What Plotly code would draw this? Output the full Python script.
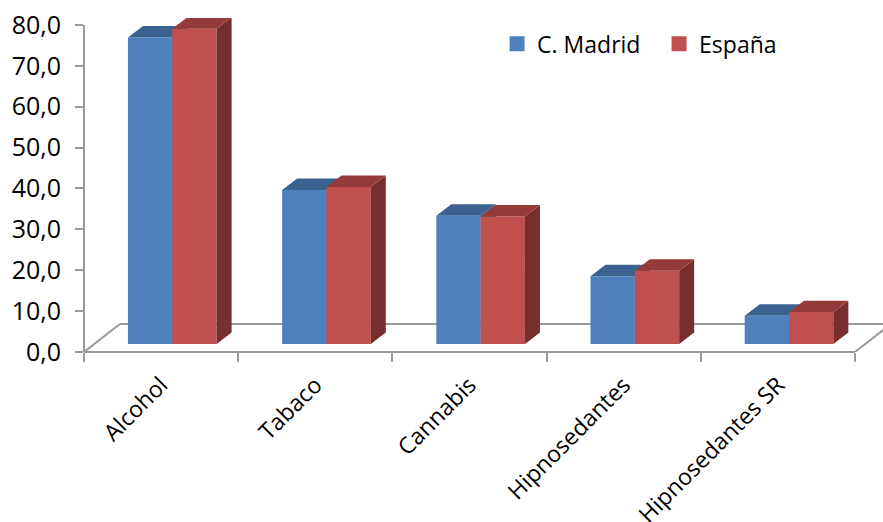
import plotly.graph_objects as go

categories = ["Alcohol", "Tabaco", "Cannabis", "Hipnosedantes", "Hipnosedantes SR"]
madrid = [75.0, 37.7, 31.4, 16.6, 6.9]
espana = [77.1, 38.4, 31.2, 17.9, 7.8]
y_ticks = [0, 10, 20, 30, 40, 50, 60, 70, 80]

FONT = "Open Sans"
INK = "#000000"
AXIS = "#9A9A9A"

# Box geometry in axis units: the bars stand on a raised floor and recede up and to the right.
BAR_W = 0.2875
BAR_START = 0.285
LIFT = 1.96
DEPTH_X = 0.0973
DEPTH_Y = 2.8
FLOOR_X = 0.233
FLOOR_Y = 6.85
X_MAX = 5.182
Y_MAX = 81.71


def faces(values, start):
    """Build side and top polygons for one series, separated by None."""
    side_x, side_y, top_x, top_y = [], [], [], []
    for i, v in enumerate(values):
        x0 = i + start
        x1 = x0 + BAR_W
        top = LIFT + v
        side_x += [x1, x1 + DEPTH_X, x1 + DEPTH_X, x1, x1, None]
        side_y += [LIFT, LIFT + DEPTH_Y, top + DEPTH_Y, top, LIFT, None]
        top_x += [x0, x0 + DEPTH_X, x1 + DEPTH_X, x1, x0, None]
        top_y += [top, top + DEPTH_Y, top + DEPTH_Y, top, top, None]
    return side_x, side_y, top_x, top_y


def add_series(fig, values, start, front, side, top, xa, ya):
    fig.add_bar(
        x=[i + start for i in range(len(values))],
        y=values,
        base=[LIFT] * len(values),
        width=BAR_W,
        offset=0,
        marker=dict(color=front, line=dict(width=0)),
        showlegend=False,
        hoverinfo="skip",
        xaxis=xa,
        yaxis=ya,
    )
    sx, sy, tx, ty = faces(values, start)
    for px, py, colour in ((sx, sy, side), (tx, ty, top)):
        fig.add_scatter(
            x=px, y=py, mode="lines", fill="toself", fillcolor=colour,
            line=dict(width=0), showlegend=False, hoverinfo="skip",
            xaxis=xa, yaxis=ya,
        )


fig = go.Figure()
add_series(fig, madrid, BAR_START, "#4F81BD", "#38597F", "#3C6390", "x", "y")
add_series(fig, espana, BAR_START + BAR_W, "#C0504D", "#772F2D", "#943B39", "x2", "y2")

# Legend keys
for name, colour in (("C. Madrid", "#4F81BD"), ("España", "#C0504D")):
    fig.add_scatter(
        x=[None], y=[None], mode="markers", name=name,
        marker=dict(symbol="square", size=15, color=colour),
    )

line = dict(color=AXIS, width=2)
floor_lines = [
    dict(xref="paper", yref="y", x0=0, x1=0, y0=0, y1=80, line=line),
    dict(xref="x", yref="paper", x0=0, x1=len(categories), y0=0, y1=0, line=line),
    dict(xref="x", yref="y", x0=0, x1=FLOOR_X, y0=0, y1=FLOOR_Y, line=line),
    dict(xref="x", yref="y", x0=len(categories), x1=len(categories) + FLOOR_X,
         y0=0, y1=FLOOR_Y, line=line),
    dict(xref="x", yref="y", x0=FLOOR_X, x1=X_MAX, y0=FLOOR_Y, y1=FLOOR_Y, line=line),
]

fig.update_layout(
    width=883,
    height=522,
    margin=dict(l=84, r=0, t=18, b=170, autoexpand=False),
    paper_bgcolor="white",
    plot_bgcolor="white",
    separators=",.",
    barmode="overlay",
    font=dict(family=FONT, color=INK, size=22),
    shapes=[dict(s, type="line", layer="below") for s in floor_lines],
    legend=dict(
        orientation="h", x=0.517, y=0.987, xanchor="left", yanchor="top",
        font=dict(family=FONT, size=23), bgcolor="rgba(0,0,0,0)",
        entrywidth=117, entrywidthmode="pixels", itemwidth=30,
    ),
    xaxis=dict(
        range=[0, X_MAX],
        tickmode="array",
        tickvals=[i + 0.5 for i in range(len(categories))],
        ticktext=categories,
        tickangle=-45,
        ticks="",
        ticklabelstandoff=14,
        showgrid=False,
        zeroline=False,
        showline=False,
        tickfont=dict(family=FONT, size=23),
        minor=dict(
            tickmode="array",
            tickvals=list(range(len(categories) + 1)),
            ticks="outside", ticklen=9, tickwidth=2, tickcolor=AXIS,
            showgrid=False,
        ),
    ),
    yaxis=dict(
        range=[0, Y_MAX],
        tickmode="array",
        tickvals=y_ticks,
        tickformat=".1f",
        ticks="outside",
        ticklen=8,
        tickwidth=2,
        tickcolor=AXIS,
        ticklabelstandoff=9,
        showgrid=False,
        zeroline=False,
        showline=False,
        tickfont=dict(family=FONT, size=25),
    ),
    xaxis2=dict(range=[0, X_MAX], overlaying="x", visible=False),
    yaxis2=dict(range=[0, Y_MAX], overlaying="y", visible=False),
)

fig.write_html("out.html")
